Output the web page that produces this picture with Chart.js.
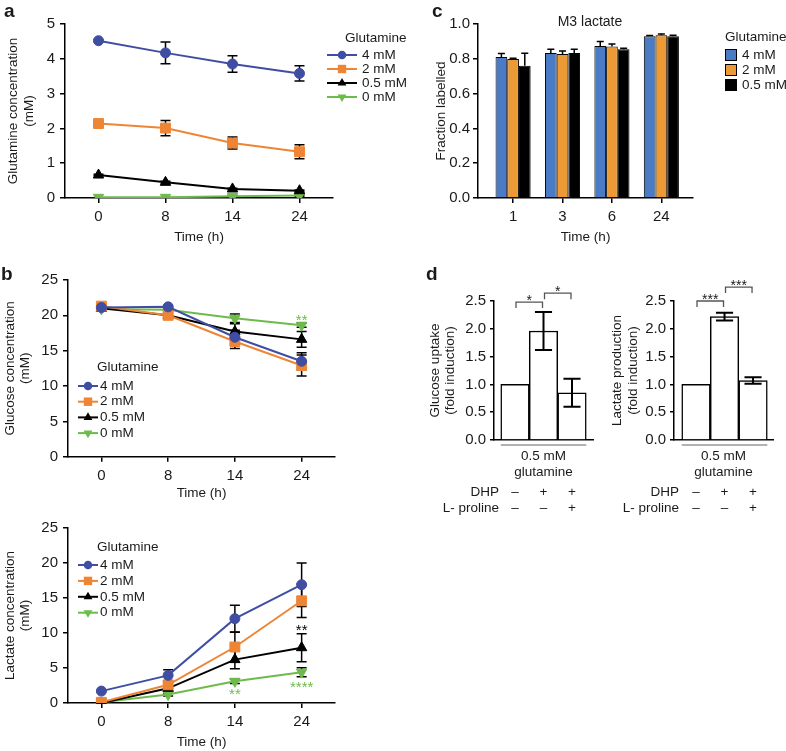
<!DOCTYPE html>
<html>
<head>
<meta charset="utf-8">
<script src="https://cdn.jsdelivr.net/npm/chart.js"></script>
<style>
  body { margin: 0; background: #fff; }
  #page { position: relative; width: 786px; height: 751px; overflow: hidden; font-family: "Liberation Sans", Arial, sans-serif; color: #1a1a1a; }
  canvas { position: absolute; }
  .letter { position: absolute; font-weight: bold; font-size: 19px; line-height: 19px; }
  .note { position: absolute; font-size: 14px; line-height: 14px; text-align: center; }
</style>
</head>
<body>
<div id="page">
  <canvas id="chartC" width="386" height="250" style="left:400px;top:0"></canvas>
  <canvas id="chartA" width="420" height="250" style="left:0;top:0"></canvas>
  <canvas id="chartGlc" width="400" height="250" style="left:0;top:255px"></canvas>
  <canvas id="chartLac" width="400" height="246" style="left:0;top:505px"></canvas>
  <canvas id="chartD1" width="195" height="260" style="left:405px;top:270px"></canvas>
  <canvas id="chartD2" width="200" height="260" style="left:585px;top:270px"></canvas>
  <div class="letter" style="left:4px;top:1px">a</div>
  <div class="letter" style="left:1px;top:264px">b</div>
  <div class="letter" style="left:432px;top:1px">c</div>
  <div class="letter" style="left:426px;top:264px">d</div>
  <div class="note" style="left:540px;top:14px;width:100px">M3 lactate</div>
</div>
<script>
const hours = ["0", "8", "14", "24"];
const doses = ["4 mM", "2 mM", "0.5 mM", "0 mM"];

// a - glutamine left in the medium (mM)
const gln4 = [4.52, 4.17, 3.85, 3.58];
const gln2 = [2.14, 2.01, 1.58, 1.33];
const gln05 = [0.66, 0.45, 0.26, 0.21];
const gln0 = [0.02, 0.02, 0.05, 0.07];
const gln4Err = [0.03, 0.31, 0.24, 0.22];
const gln2Err = [0.05, 0.22, 0.17, 0.2];
const gln05Err = [0.02, 0.03, 0.02, 0.02];
const gln0Err = [0, 0, 0.02, 0.02];

// b - glucose (mM)
const glc4 = [21.1, 21.2, 16.9, 13.5];
const glc2 = [21.3, 20.0, 16.3, 12.9];
const glc05 = [21.0, 20.0, 17.7, 16.6];
const glc0 = [20.9, 20.8, 19.6, 18.6];
const glc4Err = [0.2, 0.2, 1.0, 1.2];
const glc2Err = [0.3, 0.3, 1.0, 1.5];
const glc05Err = [0.2, 0.3, 1.1, 1.1];
const glc0Err = [0.2, 0.2, 0.6, 0.3];

// b - lactate (mM)
const lac4 = [1.7, 3.95, 12.05, 16.9];
const lac2 = [0.1, 2.6, 8.0, 14.6];
const lac05 = [0.0, 2.1, 6.2, 7.9];
const lac0 = [0.1, 1.2, 3.1, 4.4];
const lac4Err = [0.1, 0.8, 1.9, 3.1];
const lac2Err = [0.05, 0.5, 2.1, 2.4];
const lac05Err = [0.05, 0.3, 1.3, 2.0];
const lac0Err = [0.05, 0.2, 0.3, 0.65];

// significance: [series, time index, text, side]
const glcStars = [[3, 3, "**", "up"]];
const lacStars = [[2, 3, "**", "up"], [3, 2, "**", "down"], [3, 3, "****", "down"]];

// c - M3 lactate fraction
const timesC = ["1", "3", "6", "24"];
const m3lac4 = [0.81, 0.833, 0.874, 0.93];
const m3lac2 = [0.799, 0.828, 0.87, 0.935];
const m3lac05 = [0.76, 0.834, 0.855, 0.93];
const m3lac4Err = [0.02, 0.022, 0.026, 0.004];
const m3lac2Err = [0.004, 0.017, 0.015, 0.008];
const m3lac05Err = [0.072, 0.021, 0.005, 0.005];

// d - fold induction
const dhp = ["–", "+", "+"];
const proline = ["–", "–", "+"];
const glcUptake = [1.0, 1.96, 0.85];
const glcUptakeErr = [0, 0.34, 0.25];
const lacProd = [1.0, 2.22, 1.07];
const lacProdErr = [0, 0.07, 0.06];
const glcBrackets = [[0, 1, 2.48, "*"], [1, 2, 2.64, "*"]];
const lacBrackets = [[0, 1, 2.5, "***"], [1, 2, 2.75, "***"]];

const FONT = '"Liberation Sans", Arial, Helvetica, sans-serif';
const INK = "#1a1a1a";
Chart.defaults.font.family = FONT;
Chart.defaults.font.size = 15;
Chart.defaults.color = INK;

const lineColors = ["#3F4EA3", "#EE8535", "#000000", "#6DBB4B"];
const barColors = ["#4A7BC4", "#EB9A36", "#000000"];
const markerStyles = ["circle", "rect", "triangle", "triangle"];
const markerRadius = [5, 7, 6, 6];
const markerRotation = [0, 0, 0, 180];

const drawMarker = (ctx, style, rot, x, y, r) => {
  ctx.beginPath();
  if (style === "circle") {
    ctx.arc(x, y, r, 0, Math.PI * 2);
  } else if (style === "rect") {
    const h = r * Math.SQRT1_2;
    ctx.rect(x - h, y - h, 2 * h, 2 * h);
  } else {
    const d = rot ? -1 : 1;
    ctx.moveTo(x, y - d * r);
    ctx.lineTo(x + r * 0.866, y + d * r * 0.5);
    ctx.lineTo(x - r * 0.866, y + d * r * 0.5);
    ctx.closePath();
  }
  ctx.fill();
};

// error bars read from dataset.errors
const errorBars = (o) => {
  const draw = (chart) => {
    const ctx = chart.ctx;
    const y = chart.scales.y;
    ctx.save();
    ctx.strokeStyle = "#000";
    ctx.lineWidth = o.lw;
    chart.data.datasets.forEach((ds, di) => {
      const meta = chart.getDatasetMeta(di);
      ds.errors.forEach((e, i) => {
        if (!e) return;
        const el = meta.data[i];
        const raw = ds.data[i];
        const v = typeof raw === "number" ? raw : raw.y;
        const top = y.getPixelForValue(v + e);
        const bot = o.upOnly ? y.getPixelForValue(v) : y.getPixelForValue(v - e);
        const cap = o.capFrac ? el.width * o.capFrac / 2 : o.cap;
        ctx.beginPath();
        ctx.moveTo(el.x, top);
        ctx.lineTo(el.x, bot);
        ctx.moveTo(el.x - cap, top);
        ctx.lineTo(el.x + cap, top);
        if (!o.upOnly) {
          ctx.moveTo(el.x - cap, bot);
          ctx.lineTo(el.x + cap, bot);
        }
        ctx.stroke();
      });
    });
    ctx.restore();
  };
  return o.behind ? { id: "errorBars", beforeDatasetsDraw: draw } : { id: "errorBars", afterDatasetsDraw: draw };
};

const glutLegend = (o) => ({
  id: "glutLegend",
  afterDraw(chart) {
    const ctx = chart.ctx;
    ctx.save();
    ctx.textBaseline = "middle";
    ctx.textAlign = "left";
    ctx.font = `13.5px ${FONT}`;
    ctx.fillStyle = INK;
    ctx.fillText("Glutamine", o.titleX, o.titleY);
    chart.data.datasets.forEach((ds, i) => {
      const y = o.top + i * o.gap;
      if (o.boxes) {
        ctx.fillStyle = ds.backgroundColor;
        ctx.fillRect(o.x, y - 6, 12, 12);
        ctx.strokeStyle = "#000";
        ctx.lineWidth = 1;
        ctx.strokeRect(o.x + 0.5, y - 5.5, 11, 11);
      } else {
        ctx.strokeStyle = ds.borderColor;
        ctx.lineWidth = 2;
        ctx.beginPath();
        ctx.moveTo(o.x, y);
        ctx.lineTo(o.x + o.len, y);
        ctx.stroke();
        ctx.fillStyle = ds.borderColor;
        drawMarker(ctx, ds.pointStyle, ds.pointRotation, o.x + o.len / 2, y, ds.pointRadius * 0.85);
      }
      ctx.fillStyle = INK;
      ctx.fillText(ds.label, o.textX, y);
    });
    ctx.restore();
  },
});

const starMarks = (list) => ({
  id: "starMarks",
  afterDatasetsDraw(chart) {
    const ctx = chart.ctx;
    const y = chart.scales.y;
    ctx.save();
    ctx.font = `15px ${FONT}`;
    ctx.textAlign = "center";
    ctx.textBaseline = "middle";
    list.forEach(([s, i, txt, side]) => {
      const ds = chart.data.datasets[s];
      const el = chart.getDatasetMeta(s).data[i];
      const v = ds.data[i];
      const e = ds.errors[i];
      const yy = side === "up" ? y.getPixelForValue(v + e) - 2.5 : y.getPixelForValue(v - e) + 11.5;
      ctx.fillStyle = ds.borderColor;
      ctx.fillText(txt, el.x, yy);
    });
    ctx.restore();
  },
});

// brackets, grey group line and DHP / L-proline row names for panel d
const sigMarks = (brackets) => ({
  id: "sigMarks",
  afterDraw(chart) {
    const ctx = chart.ctx;
    const y = chart.scales.y;
    const x = chart.scales.x;
    const bars = chart.getDatasetMeta(0).data;
    ctx.save();
    ctx.textAlign = "center";
    ctx.textBaseline = "middle";
    brackets.forEach(([a, b, level, txt]) => {
      const x1 = bars[a].x + 1;
      const x2 = bars[b].x - 1;
      const yy = y.getPixelForValue(level);
      ctx.strokeStyle = "#555";
      ctx.lineWidth = 1.3;
      ctx.beginPath();
      ctx.moveTo(x1, yy + 6);
      ctx.lineTo(x1, yy);
      ctx.lineTo(x2, yy);
      ctx.lineTo(x2, yy + 6);
      ctx.stroke();
      ctx.fillStyle = INK;
      ctx.font = `14px ${FONT}`;
      ctx.fillText(txt, (x1 + x2) / 2, yy - 1);
    });
    const first = bars[0];
    const last = bars[bars.length - 1];
    ctx.strokeStyle = "#999";
    ctx.lineWidth = 1.5;
    ctx.beginPath();
    ctx.moveTo(first.x - first.width / 2, x.top + 5);
    ctx.lineTo(last.x + last.width / 2, x.top + 5);
    ctx.stroke();
    ctx.textAlign = "right";
    ctx.fillStyle = INK;
    ctx.font = `13.5px ${FONT}`;
    ["DHP", "L- proline"].forEach((r, k) => ctx.fillText(r, chart.chartArea.left + 5, x.top + 52 + k * 16.2));
    ctx.restore();
  },
});

const blackGrid = (tl) => ({ drawOnChartArea: false, color: "#000", lineWidth: 1.5, tickLength: tl, offset: false });
const blackBorder = { color: "#000", width: 1.5 };

const valueAxis = (width, max, step, dec, title, titleTop, tl, pad) => ({
  min: 0,
  max: max,
  grid: blackGrid(tl),
  border: blackBorder,
  ticks: { stepSize: step, padding: pad, color: INK, callback: (v) => v.toFixed(dec) },
  title: { display: true, text: title, color: INK, font: { size: 13.5, lineHeight: 1.15 }, padding: { top: titleTop, bottom: 0 } },
  afterFit: (s) => { s.width = width; },
});

const timeAxis = (height, titleBottom) => ({
  type: "category",
  offset: true,
  grid: blackGrid(5),
  border: blackBorder,
  ticks: { padding: 5, color: INK, maxRotation: 0 },
  title: { display: true, text: "Time (h)", color: INK, font: { size: 13.5 }, padding: { top: 0, bottom: titleBottom } },
  afterFit: (s) => { s.height = height; },
});

const lineSets = (series, errs) => series.map((vals, i) => ({
  label: doses[i],
  data: vals,
  errors: errs[i],
  borderColor: lineColors[i],
  backgroundColor: lineColors[i],
  borderWidth: 2,
  pointStyle: markerStyles[i],
  pointRadius: markerRadius[i],
  pointRotation: markerRotation[i],
  pointBorderWidth: 1,
  tension: 0,
}));

const baseOptions = (padTop, padRight) => ({
  responsive: false,
  devicePixelRatio: 1,
  animation: false,
  events: [],
  layout: { padding: { top: padTop, right: padRight, left: 0, bottom: 0 } },
  plugins: { legend: { display: false }, tooltip: { enabled: false } },
});

const lineChart = (id, sets, o) => new Chart(document.getElementById(id), {
  type: "line",
  data: { labels: hours, datasets: sets },
  options: {
    ...baseOptions(o.top, o.right),
    scales: {
      x: timeAxis(o.xh, o.xt),
      y: valueAxis(o.yw, o.max, o.step, 0, o.title, o.titleTop, 5, 5),
    },
  },
  plugins: [errorBars({ behind: true, cap: 5, lw: 1.5 }), glutLegend(o.legend), starMarks(o.stars || [])],
});

lineChart("chartA", lineSets([gln4, gln2, gln05, gln0], [gln4Err, gln2Err, gln05Err, gln0Err]), {
  top: 24, right: 87, xh: 52, xt: 4.9, yw: 65, max: 5, step: 1,
  title: ["Glutamine concentration", "(mM)"], titleTop: 5.7,
  legend: { titleX: 345, titleY: 38, x: 327, len: 30, textX: 362, top: 55, gap: 14 },
});

lineChart("chartGlc", lineSets([glc4, glc2, glc05, glc0], [glc4Err, glc2Err, glc05Err, glc0Err]), {
  top: 25, right: 65, xh: 48.3, xt: 3.9, yw: 68, max: 25, step: 5,
  title: ["Glucose concentration", "(mM)"], titleTop: 2.2,
  legend: { titleX: 97, titleY: 112, x: 78, len: 20, textX: 100, top: 131, gap: 15.7 },
  stars: glcStars,
});

lineChart("chartLac", lineSets([lac4, lac2, lac05, lac0], [lac4Err, lac2Err, lac05Err, lac0Err]), {
  top: 23, right: 65, xh: 48, xt: 0.9, yw: 68, max: 25, step: 5,
  title: ["Lactate concentration", "(mM)"], titleTop: 2.2,
  legend: { titleX: 97, titleY: 42, x: 78, len: 20, textX: 100, top: 60, gap: 15.9 },
  stars: lacStars,
});

// c - grouped bars on a linear axis so the axis can run past the groups
const toPoints = (vals) => vals.map((v, i) => ({ x: i + 1, y: v }));
new Chart(document.getElementById("chartC"), {
  type: "bar",
  data: {
    datasets: [m3lac4, m3lac2, m3lac05].map((vals, i) => ({
      label: doses[i],
      data: toPoints(vals),
      errors: [m3lac4Err, m3lac2Err, m3lac05Err][i],
      backgroundColor: barColors[i],
      borderColor: "#000",
      borderWidth: 1,
      barPercentage: 1,
      categoryPercentage: 0.71,
    })),
  },
  options: {
    ...baseOptions(24, 93),
    scales: {
      x: {
        type: "linear",
        offset: false,
        min: 0.29,
        max: 4.64,
        afterBuildTicks: (ax) => { ax.ticks = timesC.map((_, i) => ({ value: i + 1 })); },
        grid: blackGrid(5),
        border: blackBorder,
        ticks: { padding: 5, color: INK, autoSkip: false, maxRotation: 0, callback: (v, i) => timesC[i] },
        title: { display: true, text: "Time (h)", color: INK, font: { size: 13.5 }, padding: { top: 0, bottom: 4.9 } },
        afterFit: (s) => { s.height = 52; },
      },
      y: valueAxis(78, 1, 0.2, 1, "Fraction labelled", 33.9, 5, 3),
    },
  },
  plugins: [errorBars({ upOnly: true, capFrac: 0.6, lw: 1.5 }), glutLegend({ boxes: true, titleX: 325, titleY: 37, x: 325, textX: 342, top: 55, gap: 15 })],
});

// d - fold induction with treatment table underneath
const foldChart = (id, vals, errs, title, titleTop, brackets, xmin, xmax, padRight) => new Chart(document.getElementById(id), {
  type: "bar",
  data: {
    datasets: [{
      label: title[0],
      data: toPoints(vals),
      errors: errs,
      backgroundColor: "#fff",
      borderColor: "#000",
      borderWidth: 1.5,
      barPercentage: 1,
      categoryPercentage: 1,
    }],
  },
  options: {
    ...baseOptions(31, padRight),
    scales: {
      x: {
        type: "linear",
        offset: false,
        min: xmin,
        max: xmax,
        afterBuildTicks: (ax) => { ax.ticks = dhp.map((_, i) => ({ value: i + 1 })); },
        grid: { display: false, drawTicks: false, offset: false },
        border: blackBorder,
        ticks: { padding: 44, color: INK, font: { size: 13.5 }, autoSkip: false, maxRotation: 0, callback: (v, i) => [dhp[i], proline[i]] },
        title: { display: true, text: ["0.5 mM", "glutamine"], color: INK, font: { size: 13.5 }, padding: { top: 0, bottom: 49.7 } },
        afterFit: (s) => { s.height = 90; s.paddingLeft = 0; s.paddingRight = 0; },
      },
      y: valueAxis(89, 2.5, 0.5, 1, title, titleTop, 4, 4),
    },
  },
  plugins: [errorBars({ capFrac: 0.6, lw: 2 }), sigMarks(brackets)],
});

foldChart("chartD1", glcUptake, glcUptakeErr, ["Glucose uptake", "(fold induction)"], 22.2, glcBrackets, 0.263, 3.737, 7);
foldChart("chartD2", lacProd, lacProdErr, ["Lactate production", "(fold induction)"], 24.7, lacBrackets, 0.228, 3.7, 12);
</script>
</body>
</html>
